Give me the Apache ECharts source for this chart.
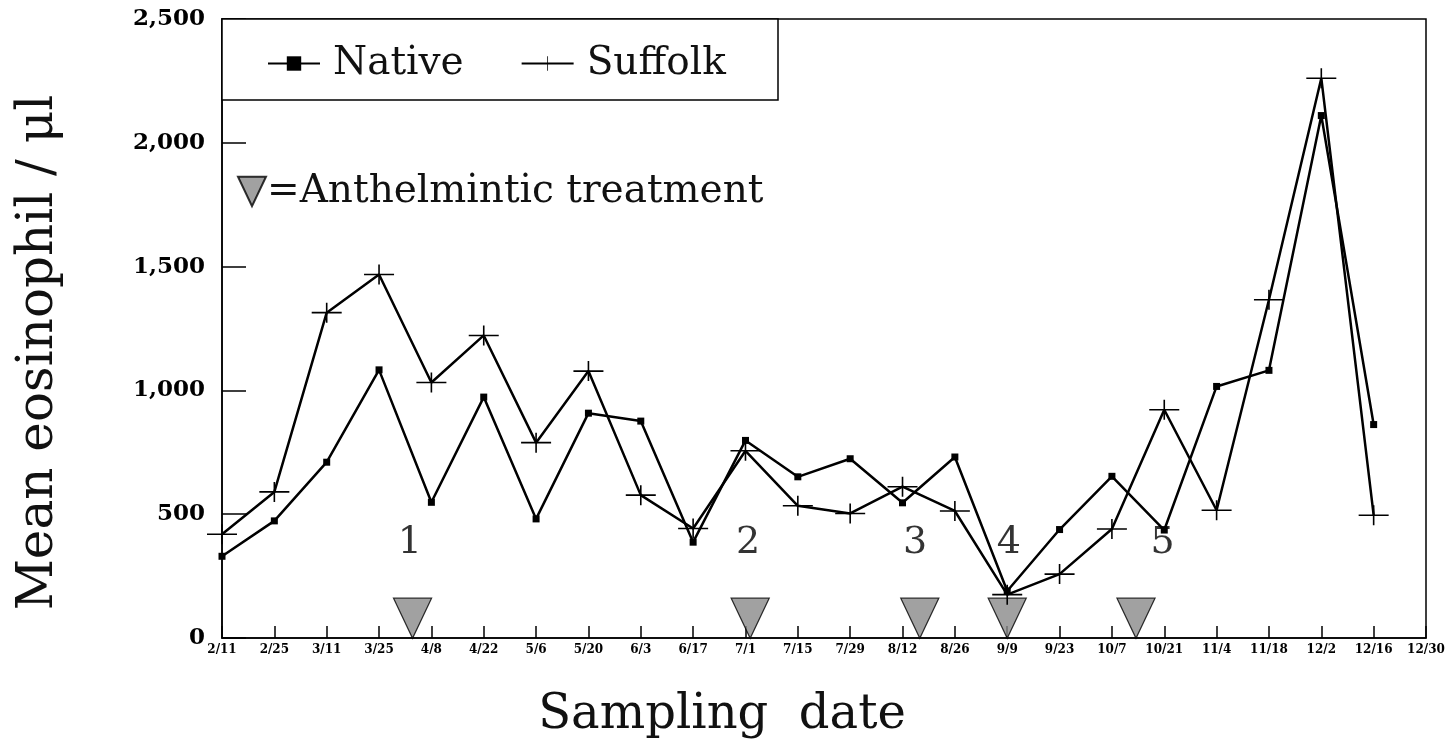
<!DOCTYPE html>
<html><head><meta charset="utf-8">
<script src="https://cdn.jsdelivr.net/npm/echarts@6/dist/echarts.min.js"></script>
<style>html,body{margin:0;padding:0;background:#fff}#c{width:1454px;height:749px}</style>
</head><body><div id="c"></div>
<script>
// Sampling dates (category axis)
const dates = ['2/11','2/25','3/11','3/25','4/8','4/22','5/6','5/20','6/3','6/17','7/1','7/15','7/29','8/12','8/26','9/9','9/23','10/7','10/21','11/4','11/18','12/2','12/16','12/30'];
// Mean eosinophil / µl
const nativeValues  = [330, 473, 710, 1083, 548, 973, 481, 908, 876, 387, 798, 651, 724, 546, 731, 190, 438, 653, 436, 1016, 1081, 2110, 862, null];
const suffolkValues = [419, 590, 1314, 1468, 1032, 1222, 789, 1078, 577, 442, 756, 534, 503, 611, 513, 175, 258, 440, 922, 516, 1366, 2261, 496, null];
// y ticks
const yTicks = [0, 500, 1000, 1500, 2000, 2500];
// Anthelmintic treatments: position in sampling-interval units counted from 2/11
const treatmentPos = [3.64, 10.09, 13.33, 15.0, 17.46];
const treatmentLabelPos = [3.59, 10.05, 13.24, 15.03, 17.97];
const treatmentLabels = ['1', '2', '3', '4', '5'];

const FONT = 'DejaVu Serif';
const crossPath = 'path://M0,9.2L14.2,9.2L14.2,0L15.8,0L15.8,9.2L30,9.2L30,10.8L15.8,10.8L15.8,20L14.2,20L14.2,10.8L0,10.8Z';
const triPath = 'path://M0,0L40,0L20,42Z';

const chart = echarts.init(document.getElementById('c'));
chart.setOption({
  backgroundColor: '#fff',
  animation: false,
  grid: { left: 222, right: 28, top: 19, bottom: 111, show: true, borderColor: '#000', borderWidth: 1.5,
    containLabel: false, outerBoundsMode: 'none' },
  graphic: [{
    type: 'rect', z: 3, shape: { x: 222, y: 19, width: 556, height: 81 },
    style: { fill: '#fff', stroke: '#000', lineWidth: 1.5 }
  }],
  legend: [{
    data: ['Native', 'Suffolk'], left: 262, top: 39, itemGap: 57, itemWidth: 52, itemHeight: 18,
    selectedMode: false, z: 5,
    textStyle: { fontFamily: FONT, fontSize: 39, color: '#111', padding: [0, 0, 0, 8] }
  }, {
    data: ['Anthelmintic treatment'], left: 232, top: 167, itemWidth: 28, itemHeight: 40,
    selectedMode: false, formatter: '={name}', icon: triPath,
    textStyle: { fontFamily: FONT, fontSize: 39, color: '#111', padding: [0, 0, 0, -4] }
  }],
  xAxis: [{
    type: 'category', data: dates, boundaryGap: false,
    name: 'Sampling  date', nameLocation: 'middle', nameGap: 54,
    nameTextStyle: { fontFamily: FONT, fontSize: 48, color: '#111', padding: [0, 204, 0, 0] },
    axisLine: { lineStyle: { color: '#000', width: 1.5 } },
    axisTick: { inside: true, length: 12, interval: 0, lineStyle: { color: '#000', width: 1.5 } },
    axisLabel: { interval: 0, margin: 6, color: '#000', fontFamily: FONT, fontWeight: 'bold', fontSize: 12 },
    splitLine: { show: false }
  }, {
    type: 'value', min: 0, max: dates.length - 1, show: false
  }],
  yAxis: {
    type: 'value', min: yTicks[0], max: yTicks[yTicks.length - 1], interval: yTicks[1] - yTicks[0],
    name: 'Mean eosinophil / μl', nameLocation: 'middle', nameGap: 158, nameRotate: 90,
    nameTextStyle: { fontFamily: FONT, fontSize: 50, color: '#111', padding: [0, 48, 0, 0] },
    axisLine: { show: true, lineStyle: { color: '#000', width: 1.5 } },
    axisTick: { show: true, inside: true, length: 24, lineStyle: { color: '#000', width: 1.5 } },
    axisLabel: { margin: 17, color: '#000', fontFamily: FONT, fontWeight: 'bold', fontSize: 23,
      formatter: v => v.toLocaleString('en-US') },
    splitLine: { show: false }
  },
  series: [{
    name: 'Native', type: 'line', data: nativeValues, symbol: 'rect', symbolSize: 7,
    itemStyle: { color: '#000' }, lineStyle: { color: '#000', width: 2.5 }, z: 4
  }, {
    name: 'Suffolk', type: 'line', data: suffolkValues, symbol: crossPath, symbolSize: [30, 20],
    itemStyle: { color: '#000' }, lineStyle: { color: '#000', width: 2.5 }, z: 4
  }, {
    name: 'Anthelmintic treatment', type: 'scatter', xAxisIndex: 1,
    data: treatmentPos.map(x => [x, 80]), symbol: triPath, symbolSize: [38, 40],
    itemStyle: { color: '#8a8a8a', borderColor: '#000', borderWidth: 1.3 }, z: 3
  }, {
    name: 'treatment number', type: 'scatter', xAxisIndex: 1,
    data: treatmentLabelPos.map((x, i) => ({ value: [x, 385], label: { formatter: treatmentLabels[i] } })),
    symbol: 'circle', symbolSize: 1, itemStyle: { color: 'rgba(0,0,0,0)' },
    label: { show: true, position: 'inside', fontFamily: FONT, fontSize: 38, color: '#000' }, z: 2
  }]
});
</script></body></html>
